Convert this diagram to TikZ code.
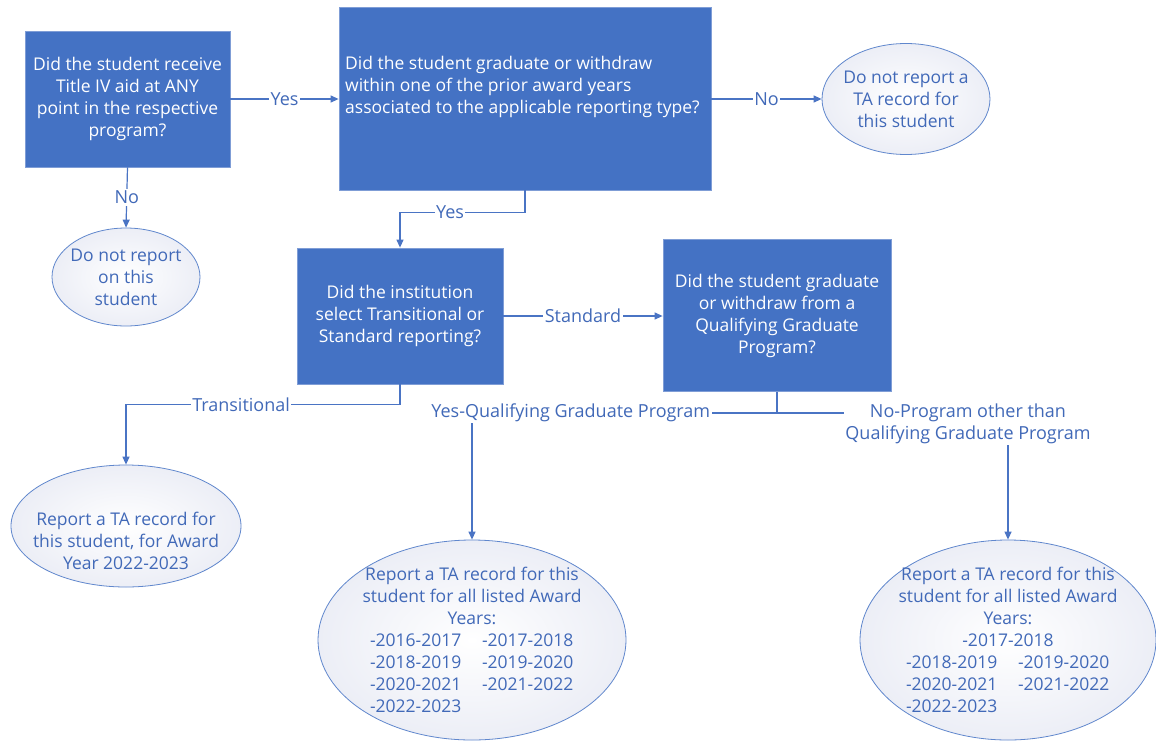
\documentclass[tikz,border=0pt]{standalone}
\usepackage{fontspec}
\setmainfont{Open Sans}
\usetikzlibrary{arrows.meta,shapes.geometric}
\definecolor{boxblue}{HTML}{4472C4}
\definecolor{boxedge}{HTML}{7F9DD6}
\definecolor{lineblue}{HTML}{4A74C4}
\definecolor{txtblue}{HTML}{4169B8}
\definecolor{ellout}{HTML}{ECEEF6}
\newcommand{\yrpair}[2]{\makebox[112pt][l]{#1}\makebox[92pt][l]{#2}}
\begin{document}
\begin{tikzpicture}[x=1pt,y=-1pt,
  font=\fontsize{17.5}{22}\selectfont,
  qbox/.style={rectangle, fill=boxblue, draw=boxedge, line width=0.8pt, text=white, align=center, inner sep=0pt},
  ell/.style={ellipse, draw=boxblue!85!white, line width=0.8pt, inner color=white, outer color=ellout, inner sep=0pt},
  etxt/.style={text=txtblue, align=center, inner sep=0pt},
  arr/.style={draw=lineblue, line width=1.2pt, -{Triangle[length=8pt,width=7pt]}},
  lbl/.style={fill=white, text=txtblue, inner sep=1.5pt, font=\fontsize{18}{22}\selectfont}
]
\useasboundingbox (0,0) rectangle (1156,742);
\fill[white] (0,0) rectangle (1156,742);

% boxes
\node[qbox, minimum width=205, minimum height=136] (b1) at (127.5,99) {Did the student receive\\Title IV aid at ANY\\point in the respective\\program?};
\node[qbox, minimum width=372, minimum height=183] (b2) at (525,98.5) {};
\node[text=white, anchor=west, align=left, inner sep=0pt] (b2t) at (345,87) {Did the student graduate or withdraw\\within one of the prior award years\\associated to the applicable reporting type?};
\node[qbox, minimum width=206, minimum height=136] (b3) at (400,316) {Did the institution\\select Transitional or\\Standard reporting?};
\node[qbox, minimum width=228, minimum height=152] (b4) at (777,315.5) {Did the student graduate\\or withdraw from a\\Qualifying Graduate\\Program?};

% ellipses
\node[ell, minimum width=148, minimum height=98] (e1) at (126,277) {};
\node[etxt] (e1t) at (126,277) {Do not report\\on this\\student};
\node[ell, minimum width=168, minimum height=111] (e2) at (906,99) {};
\node[etxt] (e2t) at (906,99) {Do not report a\\TA record for\\this student};
\node[ell, minimum width=230, minimum height=122] (e3) at (126,526) {};
\node[etxt] (e3t) at (126,541) {Report a TA record for\\this student, for Award\\Year 2022-2023};
\node[ell, minimum width=308, minimum height=200] (e4) at (472,640) {};
\node[etxt] (e4t) at (472,640) {Report a TA record for this\\student for all listed Award\\Years:\\\yrpair{-2016-2017}{-2017-2018}\\\yrpair{-2018-2019}{-2019-2020}\\\yrpair{-2020-2021}{-2021-2022}\\\yrpair{-2022-2023}{}};
\node[ell, minimum width=296, minimum height=200] (e5) at (1008,640) {};
\node[etxt] (e5t) at (1008,640) {Report a TA record for this\\student for all listed Award\\Years:\\-2017-2018\\\yrpair{-2018-2019}{-2019-2020}\\\yrpair{-2020-2021}{-2021-2022}\\\yrpair{-2022-2023}{}};

% connectors
\draw[arr] (b1.east) -- node[lbl]{Yes} (b1.east -| b2.west);
\draw[arr] (b1.south) -- node[lbl]{No} (e1.north);
\draw[arr] (b2.east |- e2.west) -- node[lbl]{No} (e2.west);
\draw[arr] (b2.south) -- ++(0,22) -| node[lbl,pos=0.3]{Yes} (b3.north);
\draw[arr] (b3.east) -- node[lbl]{Standard} (b3.east -| b4.west);
\draw[arr] (b3.south) -- ++(0,20) -| node[lbl,pos=0.29]{Transitional} (e3.north);
\draw[arr] (b4.south) -- ++(0,21) -| node[lbl,pos=0.338]{Yes-Qualifying Graduate Program} (e4.north);
\draw[arr] (b4.south) -- ++(0,21) -| node[lbl,pos=0.5,xshift=-40pt,yshift=-11pt,align=center]{No-Program other than\\Qualifying Graduate Program} (e5.north);
\end{tikzpicture}
\end{document}
